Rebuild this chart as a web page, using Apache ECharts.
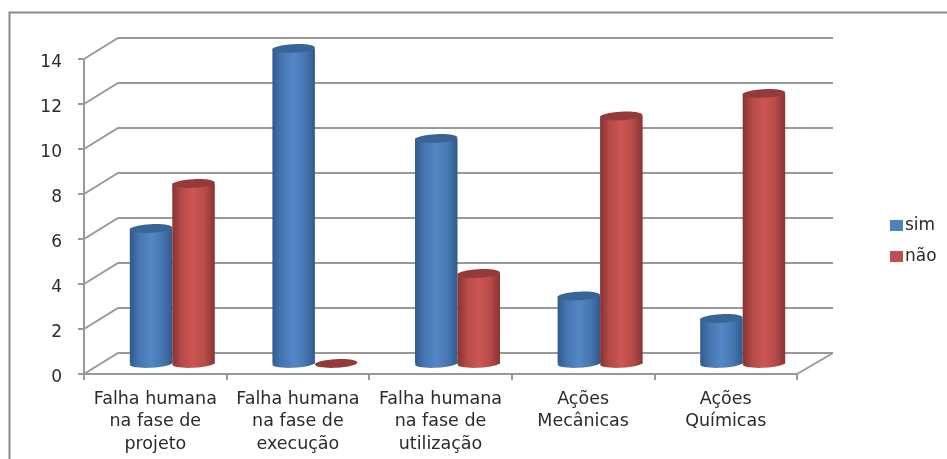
<!DOCTYPE html>
<html>
<head>
<meta charset="utf-8">
<style>html,body{margin:0;padding:0;background:#fff}#c{width:947px;height:459px}</style>
<script src="https://cdn.jsdelivr.net/npm/echarts@6/dist/echarts.min.js"></script>
</head>
<body>
<div id="c"></div>
<script>
const categories = ["Falha humana\nna fase de\nprojeto","Falha humana\nna fase de\nexecução","Falha humana\nna fase de\nutilização","Ações\nMecânicas","Ações\nQuímicas"];
const sim = [6,14,10,3,2];
const nao = [8,0,4,11,12];
const yTicks = [0,2,4,6,8,10,12,14];

const DX = 34, DY = 21;
const GRID = '#999999', TEXT = '#2b2b2b', FONT = '"DejaVu Sans", sans-serif';
const chart = echarts.init(document.getElementById('c'));

function cylinder(side, edge, mid, cap) {
  return function (params, api) {
    const v = api.value(1);
    const top = api.coord([api.value(0), v]);
    const base = api.coord([api.value(0), 0]);
    const band = api.size([1, 0])[0];
    const w = band * 0.298;
    const cx = top[0] + side * w / 2;
    const rx = w / 2, ry = 4.3, tilt = 0.05;
    const fill = new echarts.graphic.LinearGradient(0, 0, 1, 0, [
      {offset: 0, color: edge}, {offset: 0.22, color: mid[0]},
      {offset: 0.5, color: mid[1]}, {offset: 0.78, color: mid[0]}, {offset: 1, color: edge}
    ]);
    const children = [];
    if (v > 0) {
      children.push({type: 'ellipse', shape: {cx: cx, cy: base[1], rx: rx, ry: ry}, rotation: tilt, originX: cx, originY: base[1], style: {fill: fill}});
      children.push({type: 'rect', shape: {x: cx - rx, y: top[1], width: w, height: base[1] - top[1]}, style: {fill: fill}});
    }
    children.push({type: 'ellipse', shape: {cx: cx, cy: top[1], rx: rx, ry: ry}, rotation: tilt, originX: cx, originY: top[1], style: {fill: cap}});
    return {type: 'group', children: children};
  };
}

function wallLines(params, api) {
  const cs = params.coordSys;
  const p = api.coord([0, api.value(0)]);
  const x0 = cs.x, y = p[1];
  const style = {stroke: GRID, lineWidth: 2, fill: 'none'};
  const children = [{type: 'polyline', shape: {points: [[x0, y], [x0 + DX, y - DY], [x0 + cs.width + DX + 2, y - DY]]}, style: style}];
  if (params.dataIndex === 0) {
    children.push({type: 'line', shape: {x1: x0 + cs.width, y1: y, x2: x0 + cs.width + DX + 2, y2: y - DY}, style: style});
  }
  return {type: 'group', children: children};
}

chart.setOption({
  animation: false,
  backgroundColor: '#fff',
  graphic: [{type: 'polyline', z: -1, shape: {points: [[9.5, 459], [9.5, 12.5], [947, 12.5]]}, style: {fill: 'none', stroke: '#8a8a8a', lineWidth: 2}}],
  legend: {
    orient: 'vertical', left: 885, top: 212, icon: 'rect', itemWidth: 13, itemHeight: 11, itemGap: 14,
    data: ['sim', 'não'], selectedMode: false,
    textStyle: {fontFamily: FONT, fontSize: 17, color: TEXT, padding: [0, 0, 0, -3]}
  },
  grid: [
    {left: 84, top: 59, width: 713, height: 315},
    {left: 84 + DX / 2, top: 59 - DY / 2, width: 713, height: 315}
  ],
  xAxis: [
    {type: 'category', gridIndex: 0, data: categories,
     axisLine: {lineStyle: {color: GRID, width: 2}},
     axisTick: {show: true, length: 6, lineStyle: {color: GRID, width: 2}},
     axisLabel: {interval: 0, margin: 14, fontFamily: FONT, fontSize: 17.5, color: TEXT, lineHeight: 22.5}},
    {type: 'category', gridIndex: 1, data: categories, show: false}
  ],
  yAxis: [
    {type: 'value', gridIndex: 0, min: 0, max: 14, interval: 2,
     axisLine: {show: true, lineStyle: {color: GRID, width: 2}},
     axisTick: {show: true, length: 6, lineStyle: {color: GRID, width: 2}},
     splitLine: {show: false},
     axisLabel: {margin: 22, fontFamily: FONT, fontSize: 17, color: TEXT, verticalAlign: 'top', lineHeight: 7}},
    {type: 'value', gridIndex: 1, min: 0, max: 14, interval: 2, show: false, splitLine: {show: false}}
  ],
  series: [
    {type: 'custom', name: 'wall', xAxisIndex: 0, yAxisIndex: 0, renderItem: wallLines, silent: true,
     encode: {y: 0}, data: yTicks.map(v => [v]), z: 1},
    {type: 'custom', name: 'sim', xAxisIndex: 1, yAxisIndex: 1, z: 2, clip: false,
     itemStyle: {color: '#4f81bd'},
     renderItem: cylinder(-1, '#2f5a8e', ['#4676b0', '#5487c6'], '#386595'),
     encode: {x: 0, y: 1}, data: sim.map((v, i) => [i, v])},
    {type: 'custom', name: 'não', xAxisIndex: 1, yAxisIndex: 1, z: 3, clip: false,
     itemStyle: {color: '#c0504d'},
     renderItem: cylinder(1, '#883331', ['#b44b48', '#cc5653'], '#943a38'),
     encode: {x: 0, y: 1}, data: nao.map((v, i) => [i, v])}
  ]
});
</script>
</body>
</html>
